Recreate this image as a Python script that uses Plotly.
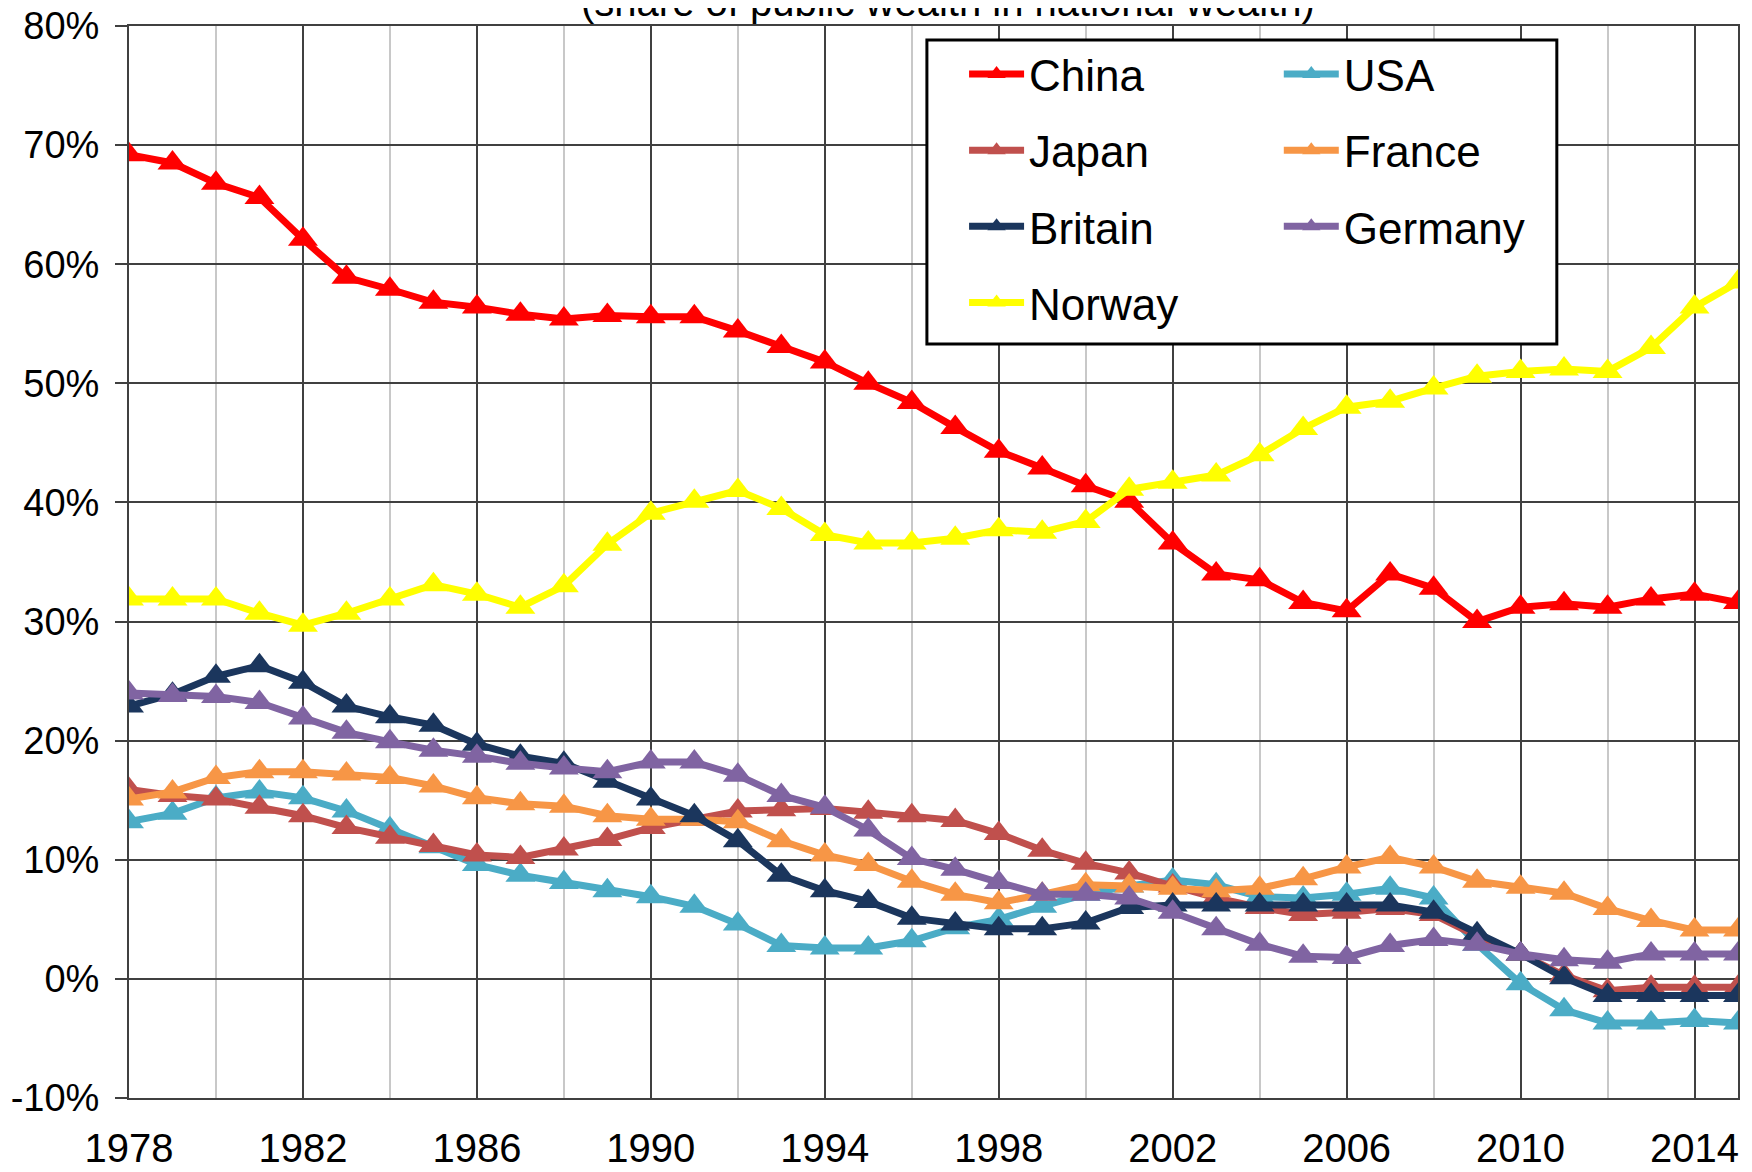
import plotly.graph_objects as go

years = list(range(1978, 2016))

china = [69.2, 68.5, 66.8, 65.6, 62.1, 58.9, 57.9, 56.8, 56.4, 55.8,
         55.4, 55.7, 55.6, 55.6, 54.4, 53.1, 51.8, 50.0, 48.4, 46.3,
         44.3, 42.9, 41.4, 40.1, 36.6, 34.0, 33.5, 31.6, 30.9, 34.0,
         32.8, 30.0, 31.2, 31.5, 31.2, 31.9, 32.3, 31.6]
usa = [13.2, 13.9, 15.2, 15.7, 15.2, 14.1, 12.6, 11.1, 9.6, 8.7,
       8.1, 7.4, 6.9, 6.1, 4.6, 2.8, 2.6, 2.6, 3.2, 4.3,
       5.0, 6.1, 7.1, 7.8, 8.3, 7.9, 6.9, 6.8, 7.1, 7.6,
       6.8, 2.9, -0.4, -2.6, -3.7, -3.7, -3.5, -3.7]
japan = [15.9, 15.4, 15.1, 14.4, 13.7, 12.7, 11.9, 11.2, 10.4, 10.2,
         10.9, 11.7, 12.7, 13.4, 14.1, 14.2, 14.3, 14.0, 13.7, 13.3,
         12.2, 10.8, 9.7, 8.9, 7.8, 6.8, 6.0, 5.4, 5.6, 5.9,
         5.4, 3.6, 2.1, 0.3, -1.0, -0.7, -0.7, -0.7]
france = [15.1, 15.7, 16.9, 17.4, 17.4, 17.2, 16.9, 16.2, 15.2, 14.7,
          14.5, 13.7, 13.4, 13.4, 13.2, 11.6, 10.4, 9.6, 8.2, 7.1,
          6.4, 7.1, 7.9, 7.8, 7.6, 7.4, 7.6, 8.4, 9.4, 10.2,
          9.4, 8.2, 7.7, 7.2, 5.9, 4.9, 4.1, 4.1]
britain = [22.9, 23.9, 25.4, 26.3, 24.9, 22.9, 22.0, 21.3, 19.7, 18.7,
           18.1, 16.6, 15.1, 13.7, 11.6, 8.7, 7.4, 6.5, 5.1, 4.6,
           4.2, 4.2, 4.7, 6.0, 6.2, 6.2, 6.2, 6.2, 6.2, 6.2,
           5.6, 3.8, 2.1, 0.1, -1.4, -1.4, -1.4, -1.4]
germany = [24.0, 23.8, 23.7, 23.2, 21.9, 20.7, 19.9, 19.2, 18.7, 18.1,
           17.7, 17.4, 18.2, 18.2, 17.1, 15.4, 14.4, 12.5, 10.1, 9.2,
           8.1, 7.1, 7.1, 6.8, 5.6, 4.2, 2.9, 1.9, 1.8, 2.8,
           3.3, 2.9, 2.1, 1.6, 1.4, 2.1, 2.1, 2.1]
norway = [31.9, 31.9, 31.9, 30.7, 29.7, 30.7, 31.9, 33.1, 32.3, 31.2,
          33.0, 36.5, 39.1, 40.1, 41.0, 39.5, 37.3, 36.6, 36.6, 37.0,
          37.7, 37.5, 38.4, 41.1, 41.7, 42.3, 44.0, 46.2, 48.0, 48.5,
          49.6, 50.6, 51.0, 51.2, 51.0, 53.0, 56.4, 58.5]

# drawing order follows the original workbook (later series on top)
series = [
    ("China", china, "#FF0000", "legend"),
    ("USA", usa, "#4BACC6", "legend2"),
    ("Japan", japan, "#C0504D", "legend"),
    ("France", france, "#F79646", "legend2"),
    ("Britain", britain, "#1B365D", "legend"),
    ("Germany", germany, "#8064A2", "legend2"),
    ("Norway", norway, "#FFFF00", "legend"),
]

y_ticks = list(range(-10, 90, 10))
y_labels = [f"{v}%" for v in y_ticks]
x_ticks = list(range(1978, 2015, 4))
x_minor = list(range(1980, 2016, 4))

FONT = "Liberation Sans Narrow, Arial Narrow, Liberation Sans, Arial, sans-serif"
GRID = "#404040"

fig = go.Figure()
for name, vals, color, leg in series:
    fig.add_trace(go.Scatter(
        x=years, y=vals, name=name, mode="lines+markers",
        line=dict(color=color, width=7),
        marker=dict(symbol="triangle-up", size=26, color=color),
        legend=leg,
        legendgroup=name,
    ))

legend_common = dict(
    bgcolor="rgba(0,0,0,0)", borderwidth=0,
    font=dict(family=FONT, size=44, color="black"),
    tracegroupgap=16, itemwidth=55,
    xanchor="left", yanchor="top",
)

# the page body adds an 8px margin, so the figure is 8px smaller each way
fig.update_layout(
    width=1744, height=1164,
    margin=dict(l=121, r=14, t=18, b=74, autoexpand=False),
    plot_bgcolor="white", paper_bgcolor="white",
    font=dict(family=FONT, size=40, color="black"),
    showlegend=True,
    legend=dict(x=0.519, y=0.988, **legend_common),
    legend2=dict(x=0.7146, y=0.988, **legend_common),
    shapes=[dict(
        type="rect", xref="paper", yref="paper",
        x0=0.4959, x1=0.8874, y0=0.7034, y1=0.9869,
        line=dict(color="black", width=3), fillcolor="white", layer="above",
    )],
    annotations=[dict(
        text="(share of public wealth in national wealth)",
        xref="paper", yref="paper", x=0.509, y=1.0224,
        xanchor="center", yanchor="middle", showarrow=False,
        font=dict(family=FONT, size=40, color="black"),
    )],
)

fig.update_xaxes(
    range=[1978, 2015], tickvals=x_ticks, ticks="", automargin=False,
    tickfont=dict(size=40),
    showgrid=True, gridcolor=GRID, gridwidth=1.5,
    minor=dict(tickvals=x_minor, showgrid=True, gridcolor="#C8C8C8", gridwidth=1.5),
    showline=True, linecolor=GRID, linewidth=2, mirror=True,
    zeroline=False, ticklabelstandoff=14, ticklabeloverflow="allow",
)
fig.update_yaxes(
    range=[-10, 80], tickvals=y_ticks, ticktext=y_labels, automargin=False,
    tickfont=dict(size=38),
    ticks="outside", ticklen=12, tickwidth=1.5, tickcolor=GRID,
    showgrid=True, gridcolor=GRID, gridwidth=1.5,
    showline=True, linecolor=GRID, linewidth=2, mirror=True,
    zeroline=False, ticklabelstandoff=8, ticklabeloverflow="allow",
)

fig.write_html("out.html")
